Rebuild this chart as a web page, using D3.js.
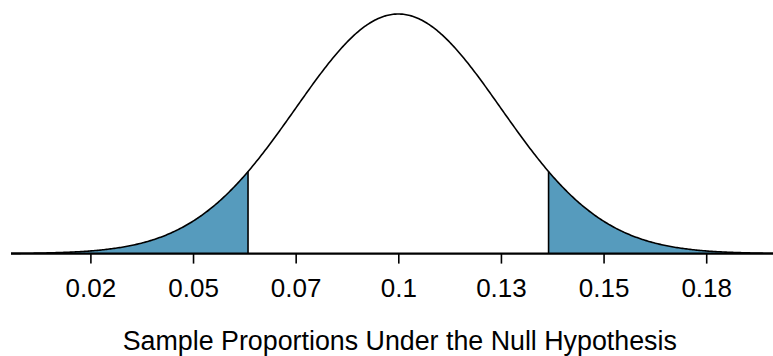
<!DOCTYPE html>
<html>
<head>
<meta charset="utf-8">
<script src="https://cdn.jsdelivr.net/npm/d3@7"></script>
<style>
  html, body { margin: 0; padding: 0; background: #fff; }
  svg { display: block; }
  text { font-family: "Liberation Sans", Arial, Helvetica, sans-serif; fill: #000; }
</style>
</head>
<body>
<svg id="chart" width="773" height="356"></svg>
<script>
// ---- data ----
const nullMean = 0.1;
const standardError = 0.0265;
const tickSteps = [-3, -2, -1, 0, 1, 2, 3];          // multiples of SE from the mean
const tickLabels = ["0.02", "0.05", "0.07", "0.1", "0.13", "0.15", "0.18"];
const tailCutoffs = [0.0612, 0.1388];                 // lower and upper shaded tails
const xDomain = [0.0, 0.2];
const axisTitle = "Sample Proportions Under the Null Hypothesis";

// ---- layout ----
const W = 773, H = 356;
const baseY = 253.6, topY = 14;
const svg = d3.select("#chart");

const x = d3.scaleLinear().domain(xDomain).range([11, 11 + (398.3 - 11) * 2]);
const dens = v => Math.exp(-0.5 * Math.pow((v - nullMean) / standardError, 2)) / (standardError * Math.sqrt(2 * Math.PI));
const peak = dens(nullMean);
const y = d3.scaleLinear().domain([0, peak]).range([baseY, topY]);

const n = 600;
const pts = d3.range(n + 1).map(i => xDomain[0] + (xDomain[1] - xDomain[0]) * i / n);

// shaded tails
const area = d3.area().x(d => x(d)).y0(y(0)).y1(d => y(dens(d)));
const lowerPts = pts.filter(p => p <= tailCutoffs[0]).concat([tailCutoffs[0]]);
const upperPts = [tailCutoffs[1]].concat(pts.filter(p => p >= tailCutoffs[1]));
svg.append("path").attr("d", area(lowerPts)).attr("fill", "#569BBD");
svg.append("path").attr("d", area(upperPts)).attr("fill", "#569BBD");

// cutoff lines
tailCutoffs.forEach(c => {
  svg.append("line")
    .attr("x1", x(c)).attr("x2", x(c))
    .attr("y1", y(0)).attr("y2", y(dens(c)))
    .attr("stroke", "#000").attr("stroke-width", 1.6);
});

// curve
const line = d3.line().x(d => x(d)).y(d => y(dens(d)));
svg.append("path").attr("d", line(pts)).attr("fill", "none")
  .attr("stroke", "#000").attr("stroke-width", 1.6);

// axis
const tickVals = tickSteps.map(k => nullMean + k * standardError);
const axis = d3.axisBottom(x)
  .tickValues(tickVals)
  .tickFormat((d, i) => tickLabels[i])
  .tickSize(10)
  .tickSizeOuter(0);
const g = svg.append("g").attr("transform", `translate(0,${baseY})`).call(axis);
g.select(".domain").remove();
g.selectAll(".tick line").attr("stroke", "#000").attr("stroke-width", 1.6);
g.selectAll(".tick text")
  .attr("y", 43).attr("dy", null)
  .style("font-size", "26px")
  .style("font-family", '"Liberation Sans", Arial, Helvetica, sans-serif')
  .attr("fill", "#000");

svg.append("line")
  .attr("x1", 11).attr("x2", W)
  .attr("y1", baseY).attr("y2", baseY)
  .attr("stroke", "#000").attr("stroke-width", 2.2);

svg.append("text")
  .attr("x", x(nullMean) + 1.5).attr("y", 350)
  .attr("text-anchor", "middle")
  .style("font-size", "26.8px")
  .text(axisTitle);
</script>
</body>
</html>
